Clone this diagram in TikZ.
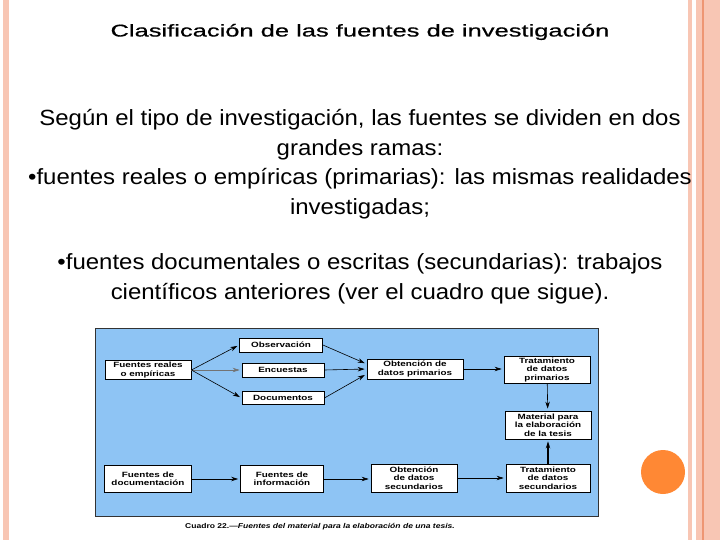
\documentclass[tikz,border=0pt]{standalone}
\usepackage{fontspec}
\setmainfont{Liberation Sans}
\newfontfamily\titlefont[FakeStretch=1.5, FakeBold=0.6]{Liberation Sans}
\newfontfamily\bodyfont[FakeStretch=1.09]{Liberation Sans}
\newfontfamily\boxfont[FakeStretch=1.3]{Liberation Sans}
\newfontfamily\capfont[FakeStretch=1.22]{Liberation Sans}
\usetikzlibrary{arrows.meta, positioning}
\definecolor{slidepink}{RGB}{248,198,180}
\definecolor{slideline}{RGB}{238,150,115}
\definecolor{slidedot}{RGB}{255,136,52}
\definecolor{chartblue}{RGB}{142,196,244}
\tikzset{
    fbox/.style={draw=black, fill=white, line width=0.8pt, align=center, inner sep=1pt,
        font=\boxfont\bfseries\fontsize{7.6}{8.4}\selectfont},
    flow/.style={-{Stealth[length=7pt,width=4.5pt]}, line width=0.6pt, shorten >=2pt},
    bodytext/.style={align=center, inner sep=0pt, font=\bodyfont\fontsize{22}{29.5}\selectfont}
}
\begin{document}
\begin{tikzpicture}[x=1pt, y=-1pt]
    \useasboundingbox (0,0) rectangle (720,540);
    % slide frame
    \fill[slidepink] (3,0) rectangle (9,540);
    \fill[slidepink] (688,0) rectangle (692,540);
    \fill[slidepink] (696,0) rectangle (720,540);
    \fill[slideline] (702,0) rectangle (703.5,540);
    \fill[slidedot] (663,472) circle (22);

    \node[inner sep=0pt, font=\titlefont\fontsize{17}{20}\selectfont] (titulo) at (360,32)
        {Clasificación de las fuentes de investigación};
    \node[bodytext] (ramas) at (360,164)
        {Según el tipo de investigación, las fuentes se dividen en dos\\
         grandes ramas:\\
         •fuentes reales o empíricas (primarias): las mismas realidades\\
         investigadas;};
    \node[bodytext] (escritas) at (360,279)
        {•fuentes documentales o escritas (secundarias): trabajos\\
         científicos anteriores (ver el cuadro que sigue).};

    % cuadro
    \fill[chartblue, draw=black!80, line width=0.8pt] (95,328) rectangle (598,516);
    \node[fbox, minimum width=86, minimum height=19] (reales) at (148,370) {Fuentes reales\\o empíricas};
    \node[fbox, minimum width=83, minimum height=14] (obs) at (281,345) {Observación};
    \node[fbox, minimum width=82, minimum height=14] (enc) at (283,370) {Encuestas};
    \node[fbox, minimum width=82, minimum height=13] (docu) at (283,398) {Documentos};
    \node[fbox, minimum width=96, minimum height=20] (prim) at (415,369) {Obtención de\\datos primarios};
    \node[fbox, minimum width=86, minimum height=27] (tratp) at (547,370) {Tratamiento\\de datos\\primarios};
    \node[fbox, minimum width=86, minimum height=28] (mat) at (548,425) {Material para\\la elaboración\\de la tesis};
    \node[fbox, minimum width=84, minimum height=28] (trats) at (548,478) {Tratamiento\\de datos\\secundarios};
    \node[fbox, minimum width=86, minimum height=28] (secu) at (414,478) {Obtención\\de datos\\secundarios};
    \node[fbox, minimum width=83, minimum height=27] (info) at (282,479) {Fuentes de\\información};
    \node[fbox, minimum width=87, minimum height=27] (docum) at (148,479) {Fuentes de\\documentación};

    \draw[flow] (reales.east) -- (obs.west);
    \draw[flow, black!55] (reales.east) -- (enc.west);
    \draw[flow] (reales.east) -- (docu.west);
    \draw[flow] (obs.east) -- ([yshift=5pt]prim.west);
    \draw[flow] (enc.east) -- (prim.west);
    \draw[flow] (docu.east) -- ([yshift=-5pt]prim.west);
    \draw[flow] (prim.east) -- (prim.east -| tratp.west);
    \draw[flow] (tratp) -- (mat);
    \draw[flow, line width=1.2pt] (trats) -- (mat);
    \draw[flow] (docum) -- (info);
    \draw[flow] (info.east) -- (info.east -| secu.west);
    \draw[flow] (secu) -- (trats);

    \node[inner sep=0pt, font=\capfont\fontsize{7}{8}\selectfont] (pie) at (320,527)
        {\bfseries Cuadro 22.—\itshape Fuentes del material para la elaboración de una tesis.};
\end{tikzpicture}
\end{document}
